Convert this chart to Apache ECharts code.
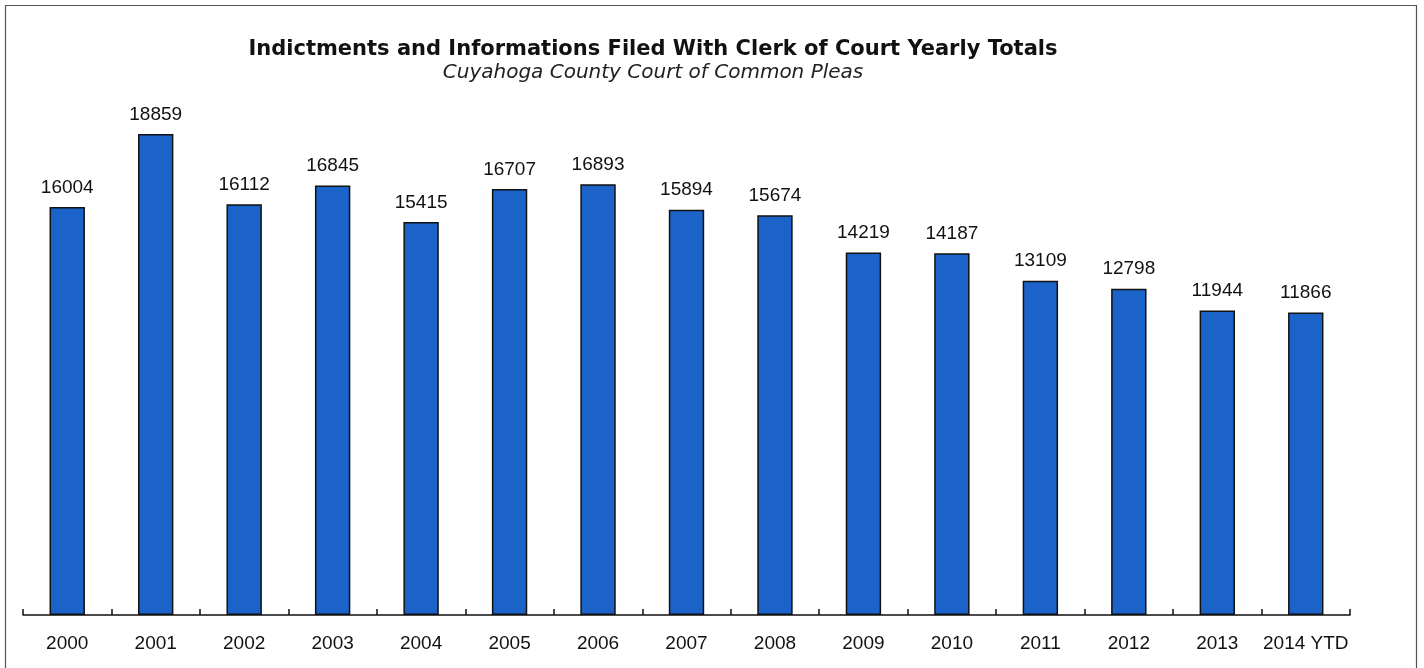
<!DOCTYPE html>
<html><head><meta charset="utf-8">
<script src="https://cdn.jsdelivr.net/npm/echarts@6/dist/echarts.min.js"></script>
<style>html,body{margin:0;padding:0;background:#fff}#c{width:1424px;height:668px}</style>
</head><body><div id="c"></div>
<script>
const categories = ['2000','2001','2002','2003','2004','2005','2006','2007','2008','2009','2010','2011','2012','2013','2014 YTD'];
const values = [16004,18859,16112,16845,15415,16707,16893,15894,15674,14219,14187,13109,12798,11944,11866];
const titleText = 'Indictments and Informations Filed With Clerk of Court Yearly Totals';
const subtitleText = 'Cuyahoga County Court of Common Pleas';

const chart = echarts.init(document.getElementById('c'));
chart.setOption({
  animation: false,
  backgroundColor: '#fff',
  graphic: [{
    type: 'rect', shape: {x: 5.5, y: 5.5, width: 1411, height: 700},
    style: {fill: 'none', stroke: '#555', lineWidth: 1.2}, silent: true
  }],
  title: {
    text: titleText, subtext: subtitleText, left: 648, top: 34, textAlign: 'center', itemGap: 3,
    textStyle: {fontFamily: 'DejaVu Sans', fontWeight: 'bold', fontSize: 21, color: '#111'},
    subtextStyle: {fontFamily: 'DejaVu Sans', fontStyle: 'italic', fontSize: 20, color: '#222'}
  },
  grid: {left: 23, right: 74, top: 105, bottom: 53, containLabel: false},
  xAxis: {
    type: 'category', data: categories, boundaryGap: true,
    axisLine: {lineStyle: {color: '#111', width: 1.5}},
    axisTick: {show: true, length: 6, inside: true, alignWithLabel: false, lineStyle: {color: '#111', width: 1.5}},
    axisLabel: {color: '#111', fontFamily: 'Liberation Sans, Arial', fontSize: 19, margin: 19, interval: 0}
  },
  yAxis: {type: 'value', min: 0, max: 20000, show: false, splitLine: {show: false}},
  series: [{
    type: 'bar', data: values, barWidth: '40%',
    itemStyle: {color: '#1b62c9', borderColor: '#111', borderWidth: 1.5},
    label: {show: true, position: 'top', distance: 10, color: '#111', fontFamily: 'Liberation Sans, Arial', fontSize: 19}
  }]
});
</script></body></html>
